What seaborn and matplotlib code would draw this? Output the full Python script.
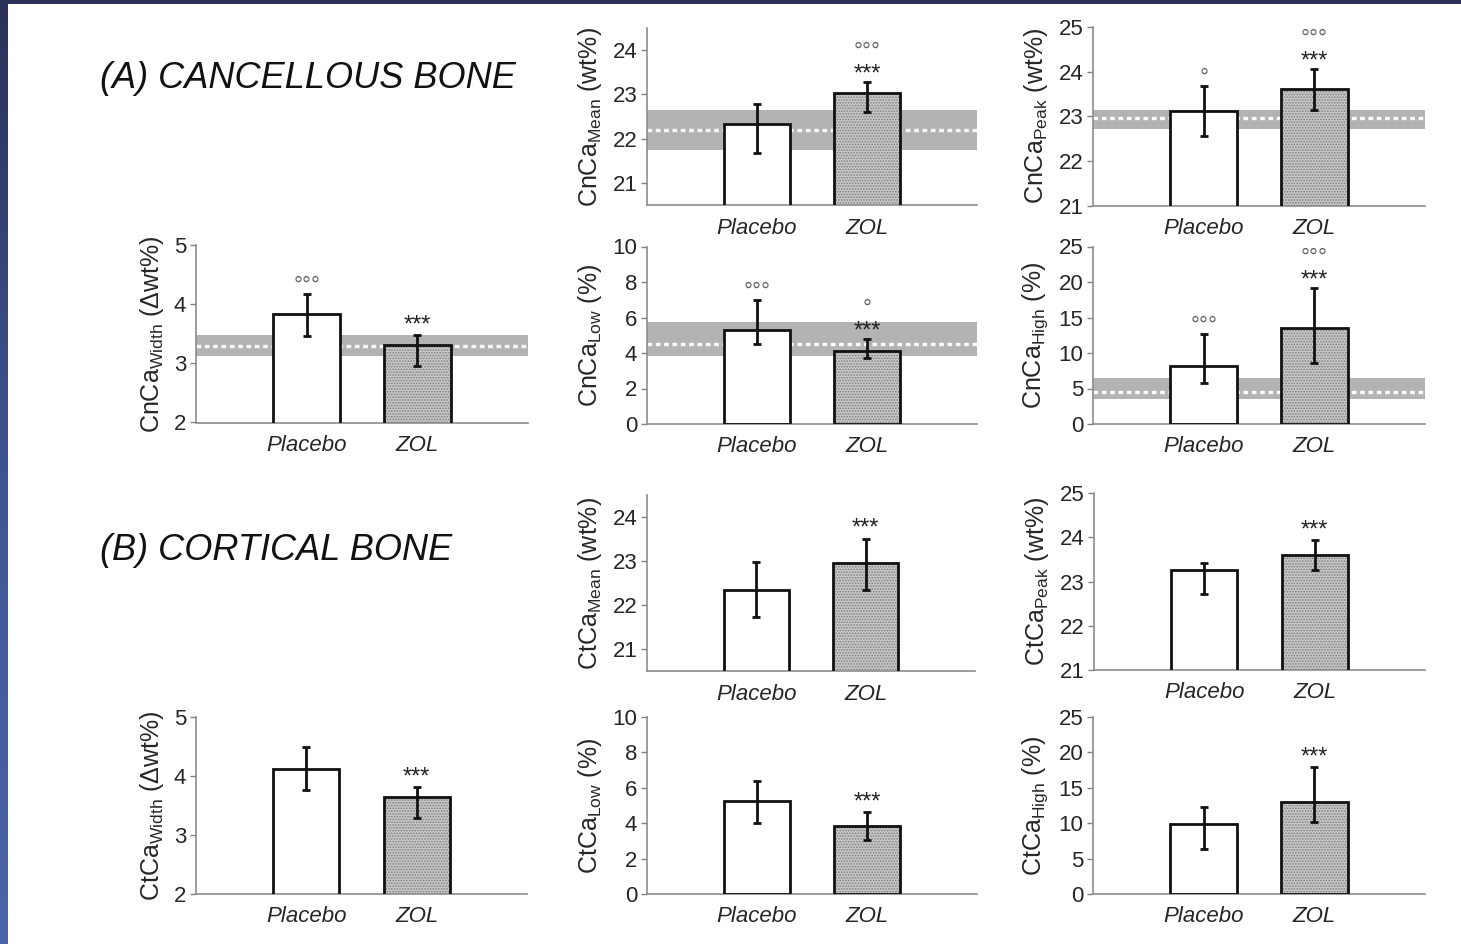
import numpy as np
import pandas as pd
import matplotlib
matplotlib.use("Agg")
import matplotlib.pyplot as plt
from matplotlib.patches import Rectangle
from matplotlib.colors import LinearSegmentedColormap
import seaborn as sns

sns.set_theme(style="white")
plt.rcParams['font.family'] = ['Liberation Sans', 'DejaVu Sans']
plt.rcParams['mathtext.default'] = 'regular'
plt.rcParams['hatch.linewidth'] = 0.8

# ---------------- data ----------------
groups = ["Placebo", "ZOL"]

# Cancellous bone (value, lower bound, upper bound, reference band low/mid/high)
cn_mean = [22.32, 23.02]; cn_mean_lo = [21.67, 22.60]; cn_mean_hi = [22.79, 23.29]; cn_mean_ref = [21.74, 22.19, 22.64]
cn_peak = [23.11, 23.60]; cn_peak_lo = [22.55, 23.13]; cn_peak_hi = [23.67, 24.07]; cn_peak_ref = [22.72, 22.95, 23.13]
cn_width = [3.83, 3.31]; cn_width_lo = [3.46, 2.95]; cn_width_hi = [4.17, 3.48]; cn_width_ref = [3.13, 3.30, 3.48]
cn_low = [5.30, 4.12]; cn_low_lo = [4.49, 3.74]; cn_low_hi = [7.00, 4.81]; cn_low_ref = [3.85, 4.49, 5.77]
cn_high = [8.22, 13.58]; cn_high_lo = [5.83, 8.56]; cn_high_hi = [12.65, 19.20]; cn_high_ref = [3.48, 4.47, 6.45]

# Cortical bone
ct_mean = [22.35, 22.95]; ct_mean_lo = [21.73, 22.35]; ct_mean_hi = [22.97, 23.51]
ct_peak = [23.26, 23.59]; ct_peak_lo = [22.71, 23.25]; ct_peak_hi = [23.41, 23.93]
ct_width = [4.12, 3.64]; ct_width_lo = [3.77, 3.29]; ct_width_hi = [4.50, 3.81]
ct_low = [5.27, 3.86]; ct_low_lo = [4.01, 3.03]; ct_low_hi = [6.36, 4.63]
ct_high = [9.93, 12.94]; ct_high_lo = [6.36, 10.11]; ct_high_hi = [12.29, 17.88]

# significance marks per bar: (stars vs placebo, circles vs reference)
cn_mean_sig = [("", ""), ("***", "°°°")]
cn_peak_sig = [("", "°"), ("***", "°°°")]
cn_width_sig = [("", "°°°"), ("***", "")]
cn_low_sig = [("", "°°°"), ("***", "°")]
cn_high_sig = [("", "°°°"), ("***", "°°°")]
ct_sig = [("", ""), ("***", "")]

label_cn_mean = r"CnCa$_{Mean}$ (wt%)"
label_cn_peak = r"CnCa$_{Peak}$ (wt%)"
label_cn_width = r"CnCa$_{Width}$ (Δwt%)"
label_cn_low = r"CnCa$_{Low}$ (%)"
label_cn_high = r"CnCa$_{High}$ (%)"
label_ct_mean = r"CtCa$_{Mean}$ (wt%)"
label_ct_peak = r"CtCa$_{Peak}$ (wt%)"
label_ct_width = r"CtCa$_{Width}$ (Δwt%)"
label_ct_low = r"CtCa$_{Low}$ (%)"
label_ct_high = r"CtCa$_{High}$ (%)"

ticks_mean = [21, 22, 23, 24]
ticks_peak = [21, 22, 23, 24, 25]
ticks_width = [2, 3, 4, 5]
ticks_low = [0, 2, 4, 6, 8, 10]
ticks_high = [0, 5, 10, 15, 20, 25]

# ---------------- figure ----------------
W, H = 1461, 944
fig = plt.figure(figsize=(W / 100, H / 100), dpi=100)
fig.patch.set_facecolor("white")

# dark frame (top and left)
fig.patches.append(Rectangle((0, 1 - 4 / H), 1, 4 / H, transform=fig.transFigure,
                             facecolor="#2b3157", edgecolor="none", zorder=0))
axf = fig.add_axes([0, 0, 8 / W, 1])
grad = np.linspace(0, 1, 256).reshape(-1, 1)
cmap = LinearSegmentedColormap.from_list("frame", ["#2b3157", "#3f5592", "#4a66aa"])
axf.imshow(grad, aspect="auto", cmap=cmap, extent=[0, 1, 0, 1], origin="upper")
axf.axis("off")


def rect(x0, x1, y0, y1):
    return [x0 / W, 1 - y1 / H, (x1 - x0) / W, (y1 - y0) / H]


def panel(r, vals, lo, hi, ylim, ticks, ylabel, sig, ref=None):
    ax = fig.add_axes(r)
    df = pd.DataFrame({"group": groups, "value": vals})
    # textured fill layer
    sns.barplot(data=df, x="group", y="value", ax=ax, width=0.6, errorbar=None,
                palette=["white", "#c6c6c6"], hue="group", legend=False,
                linewidth=0, zorder=2)
    zol = ax.patches[1]
    zol.set_hatch("......")
    zol.set_edgecolor("#808080")
    zol.set_linewidth(0)
    # outline layer
    sns.barplot(data=df, x="group", y="value", ax=ax, width=0.6, errorbar=None,
                fill=False, color="black", linewidth=2.0, zorder=3)
    for p in ax.patches[2:]:
        p.set_edgecolor("#111111")
        p.set_facecolor("none")
        p.set_hatch(None)
    x = np.arange(len(groups))
    vals_a = np.array(vals); lo_a = np.array(lo); hi_a = np.array(hi)
    ax.errorbar(x, vals_a, yerr=[vals_a - lo_a, hi_a - vals_a], fmt="none",
                ecolor="#111111", elinewidth=2.0, capsize=3, capthick=2.0, zorder=4)
    if ref is not None:
        ax.axhspan(ref[0], ref[2], color="#b3b3b3", lw=0, zorder=0.5)
        ax.axhline(ref[1], color="white", lw=2.4, linestyle=(0, (1.4, 1.1)), zorder=0.8)
    for xi, top, (stars, circ) in zip(x, hi_a, sig):
        if stars:
            soff = 13 if circ else 15
            ax.annotate(stars, xy=(xi, top), xytext=(0, soff), textcoords="offset points",
                        ha="center", va="top", fontsize=17, color="#222222")
            coff = soff + 0.6
        else:
            coff = -2
        if circ:
            ax.annotate(circ, xy=(xi, top), xytext=(0, coff), textcoords="offset points",
                        ha="center", va="bottom", fontsize=16, color="#666666")
    ax.set_xlim(-1, 2)
    ax.set_ylim(*ylim)
    ax.set_yticks(ticks)
    ax.set_xlabel("")
    ax.set_ylabel(ylabel, fontsize=18, labelpad=6)
    ax.set_xticks(x)
    ax.set_xticklabels(groups, fontsize=16, style="italic")
    ax.tick_params(axis="x", length=0, pad=9)
    ax.tick_params(axis="y", length=4, width=1, color="#808080", labelsize=16, direction="out", pad=3,
                   left=True)
    for s in ["top", "right"]:
        ax.spines[s].set_visible(False)
    for s in ["left", "bottom"]:
        ax.spines[s].set_color("#8c8c8c")
        ax.spines[s].set_linewidth(1.2)
    ax.set_facecolor("none")
    return ax


# Cancellous
panel(rect(647, 977, 28, 205), cn_mean, cn_mean_lo, cn_mean_hi, (20.5, 24.5), ticks_mean, label_cn_mean, cn_mean_sig, cn_mean_ref)
panel(rect(1093, 1425, 27, 205.5), cn_peak, cn_peak_lo, cn_peak_hi, (21, 25), ticks_peak, label_cn_peak, cn_peak_sig, cn_peak_ref)
panel(rect(196, 528, 245, 422.5), cn_width, cn_width_lo, cn_width_hi, (2, 5), ticks_width, label_cn_width, cn_width_sig, cn_width_ref)
panel(rect(647, 977, 246.5, 424), cn_low, cn_low_lo, cn_low_hi, (0, 10), ticks_low, label_cn_low, cn_low_sig, cn_low_ref)
panel(rect(1093, 1425, 246.5, 424), cn_high, cn_high_lo, cn_high_hi, (0, 25), ticks_high, label_cn_high, cn_high_sig, cn_high_ref)

# Cortical
panel(rect(647, 975, 495, 671), ct_mean, ct_mean_lo, ct_mean_hi, (20.5, 24.5), ticks_mean, label_ct_mean, ct_sig)
panel(rect(1094, 1425, 493, 670), ct_peak, ct_peak_lo, ct_peak_hi, (21, 25), ticks_peak, label_ct_peak, ct_sig)
panel(rect(196, 527, 717, 894), ct_width, ct_width_lo, ct_width_hi, (2, 5), ticks_width, label_ct_width, ct_sig)
panel(rect(647, 977, 717, 894), ct_low, ct_low_lo, ct_low_hi, (0, 10), ticks_low, label_ct_low, ct_sig)
panel(rect(1093, 1425, 717, 894), ct_high, ct_high_lo, ct_high_hi, (0, 25), ticks_high, label_ct_high, ct_sig)

fig.text(100 / W, 1 - 79 / H, "(A) CANCELLOUS BONE", fontsize=26, style="italic",
         ha="left", va="center", color="#111111")
fig.text(100 / W, 1 - 550 / H, "(B) CORTICAL BONE", fontsize=26, style="italic",
         ha="left", va="center", color="#111111")

fig.savefig("out.png", dpi=100, facecolor="white")
